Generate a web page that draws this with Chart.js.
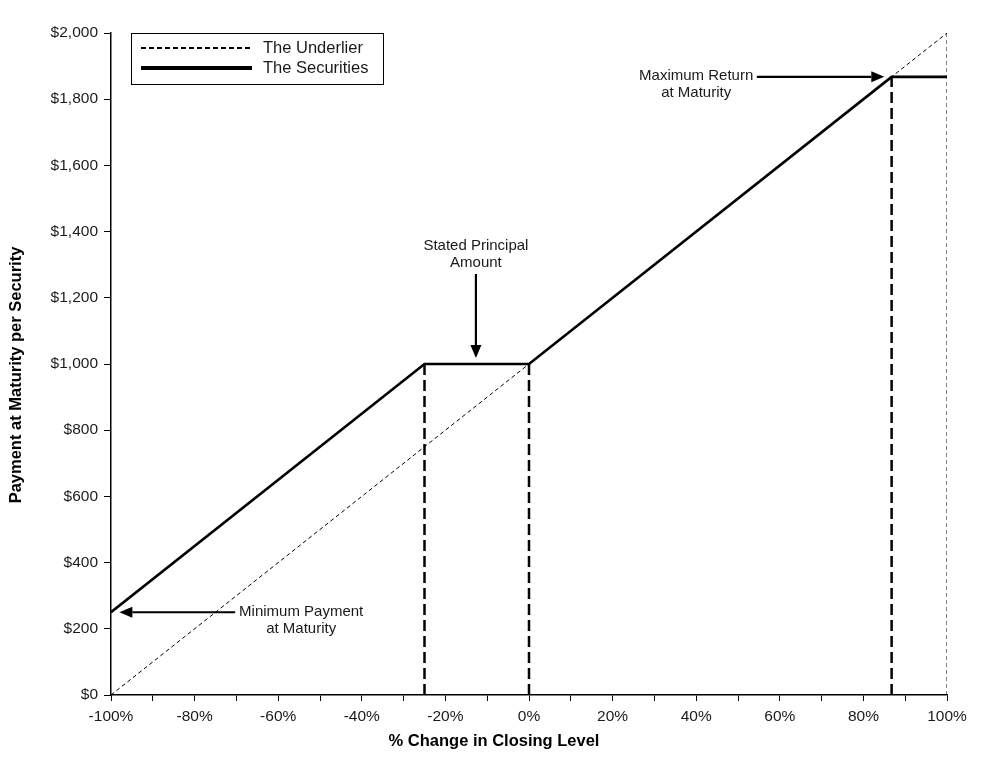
<!DOCTYPE html>
<html>
<head>
<meta charset="utf-8">
<script src="https://cdn.jsdelivr.net/npm/chart.js@4/dist/chart.umd.min.js"></script>
<style>
  html, body { margin: 0; padding: 0; background: #fff; }
  #wrap { width: 999px; height: 762px; position: relative; }
</style>
</head>
<body>
<div id="wrap"><canvas id="c"></canvas></div>
<script>
// payoff profile
const securitiesX = [-100, -25, 0, 86.75, 100];
const securitiesY = [250, 1000, 1000, 1867.5, 1867.5];
const underlierX = [-100, 100];
const underlierY = [0, 2000];
// vertical drop lines at the kinks
const markerX = [-25, 0, 86.75];
const markerY = [1000, 1000, 1867.5];
// right edge (thin dashed) at +100%
const edgeX = [100, 100];
const edgeY = [0, 2000];

const xTicks = { min: -100, max: 100, step: 10, labelEvery: 20 };
const yTicks = { min: 0, max: 2000, step: 200 };

const xTitle = '% Change in Closing Level';
const yTitle = 'Payment at Maturity per Security';

const FONT = "'Liberation Sans', Arial, sans-serif";
const INK = '#000';
const TEXT = '#1a1a1a';

const pts = (xs, ys) => xs.map((x, i) => ({ x, y: ys[i] }));

const datasets = [];
markerX.forEach((x, i) => {
  datasets.push({
    data: pts([x, x], [0, markerY[i]]),
    borderColor: INK, borderWidth: 2.5, borderDash: [11, 5],
    pointRadius: 0, showLine: true, order: 3,
  });
});
datasets.push({
  data: pts(edgeX, edgeY),
  borderColor: INK, borderWidth: 1, borderDash: [4, 3],
  pointRadius: 0, showLine: true, order: 3,
});
datasets.push({
  label: 'The Underlier',
  data: pts(underlierX, underlierY),
  borderColor: INK, borderWidth: 1, borderDash: [4, 3],
  pointRadius: 0, showLine: true, order: 2,
});
datasets.push({
  label: 'The Securities',
  data: pts(securitiesX, securitiesY),
  borderColor: INK, borderWidth: 2.6,
  pointRadius: 0, showLine: true, order: 1,
});

// text + arrow callouts, anchored in data space
const callouts = [
  { lines: ['Maximum Return', 'at Maturity'], tx: 40, ty: 1870,
    from: [54.5, 1867.5], to: [85.0, 1867.5] },
  { lines: ['Stated Principal', 'Amount'], tx: -12.7, ty: 1357,
    from: [-12.7, 1272], to: [-12.7, 1018] },
  { lines: ['Minimum Payment', 'at Maturity'], tx: -54.5, ty: 250,
    from: [-70.3, 250], to: [-98.0, 250] },
];

function arrow(ctx, x1, y1, x2, y2) {
  const ang = Math.atan2(y2 - y1, x2 - x1);
  const head = 13, half = 5.5;
  const bx = x2 - head * Math.cos(ang), by = y2 - head * Math.sin(ang);
  ctx.beginPath();
  ctx.moveTo(x1, y1);
  ctx.lineTo(bx, by);
  ctx.lineWidth = 2.2;
  ctx.strokeStyle = INK;
  ctx.stroke();
  ctx.beginPath();
  ctx.moveTo(x2, y2);
  ctx.lineTo(bx + half * Math.sin(ang), by - half * Math.cos(ang));
  ctx.lineTo(bx - half * Math.sin(ang), by + half * Math.cos(ang));
  ctx.closePath();
  ctx.fillStyle = INK;
  ctx.fill();
}

const extras = {
  id: 'extras',
  afterDatasetsDraw(chart) {
    const { ctx, scales: { x, y } } = chart;
    ctx.save();
    // callouts
    ctx.font = '15px ' + FONT;
    ctx.textAlign = 'center';
    ctx.textBaseline = 'middle';
    callouts.forEach(c => {
      arrow(ctx, x.getPixelForValue(c.from[0]), y.getPixelForValue(c.from[1]),
                 x.getPixelForValue(c.to[0]), y.getPixelForValue(c.to[1]));
      const px = x.getPixelForValue(c.tx), py = y.getPixelForValue(c.ty);
      ctx.fillStyle = TEXT;
      c.lines.forEach((l, i) => ctx.fillText(l, px, py + i * 17));
    });

    // legend box, top-left inside plot
    const lx = 131, ly = 33, lw = 252, lh = 51;
    ctx.fillStyle = '#fff';
    ctx.fillRect(lx, ly, lw, lh);
    ctx.lineWidth = 1;
    ctx.strokeStyle = INK;
    ctx.strokeRect(lx + 0.5, ly + 0.5, lw, lh);
    ctx.beginPath();
    ctx.setLineDash([5, 3]);
    ctx.lineWidth = 1.8;
    ctx.moveTo(141, 48); ctx.lineTo(252, 48);
    ctx.stroke();
    ctx.setLineDash([]);
    ctx.beginPath();
    ctx.lineWidth = 3.8;
    ctx.moveTo(141, 68); ctx.lineTo(252, 68);
    ctx.stroke();
    ctx.font = '16.5px ' + FONT;
    ctx.fillStyle = TEXT;
    ctx.textAlign = 'left';
    ctx.fillText('The Underlier', 263, 48);
    ctx.fillText('The Securities', 263, 68);

    // axis titles (sit a little off-centre in the original)
    ctx.font = 'bold 16.5px ' + FONT;
    ctx.fillStyle = INK;
    ctx.textAlign = 'center';
    ctx.fillText(xTitle, 494, 741);
    ctx.translate(16, 375);
    ctx.rotate(-Math.PI / 2);
    ctx.fillText(yTitle, 0, 0);
    ctx.restore();
  }
};

new Chart(document.getElementById('c'), {
  type: 'scatter',
  data: { datasets },
  plugins: [extras],
  options: {
    responsive: true,
    maintainAspectRatio: false,
    animation: false,
    layout: { padding: { top: 33, right: 52, left: 0, bottom: 0 } },
    plugins: { legend: { display: false }, tooltip: { enabled: false } },
    scales: {
      x: {
        type: 'linear',
        min: xTicks.min, max: xTicks.max,
        afterFit(s) { s.height = 67; },
        border: { display: true, color: INK, width: 1.5 },
        grid: { drawOnChartArea: false, drawTicks: true, tickLength: 6, color: INK, lineWidth: 1 },
        ticks: {
          stepSize: xTicks.step, color: TEXT, padding: 6,
          font: { family: FONT, size: 15.5 },
          autoSkip: false, maxRotation: 0,
          callback: v => (Math.abs(v) % xTicks.labelEvery === 0 ? v + '%' : ''),
        },
      },
      y: {
        min: yTicks.min, max: yTicks.max,
        afterFit(s) { s.width = 111; },
        border: { display: true, color: INK, width: 1.5 },
        grid: { drawOnChartArea: false, drawTicks: true, tickLength: 7, color: INK, lineWidth: 1 },
        ticks: {
          stepSize: yTicks.step, color: TEXT, padding: 6,
          font: { family: FONT, size: 15.5 },
          callback: v => '$' + v.toLocaleString('en-US'),
        },
      },
    },
  },
});
</script>
</body>
</html>
